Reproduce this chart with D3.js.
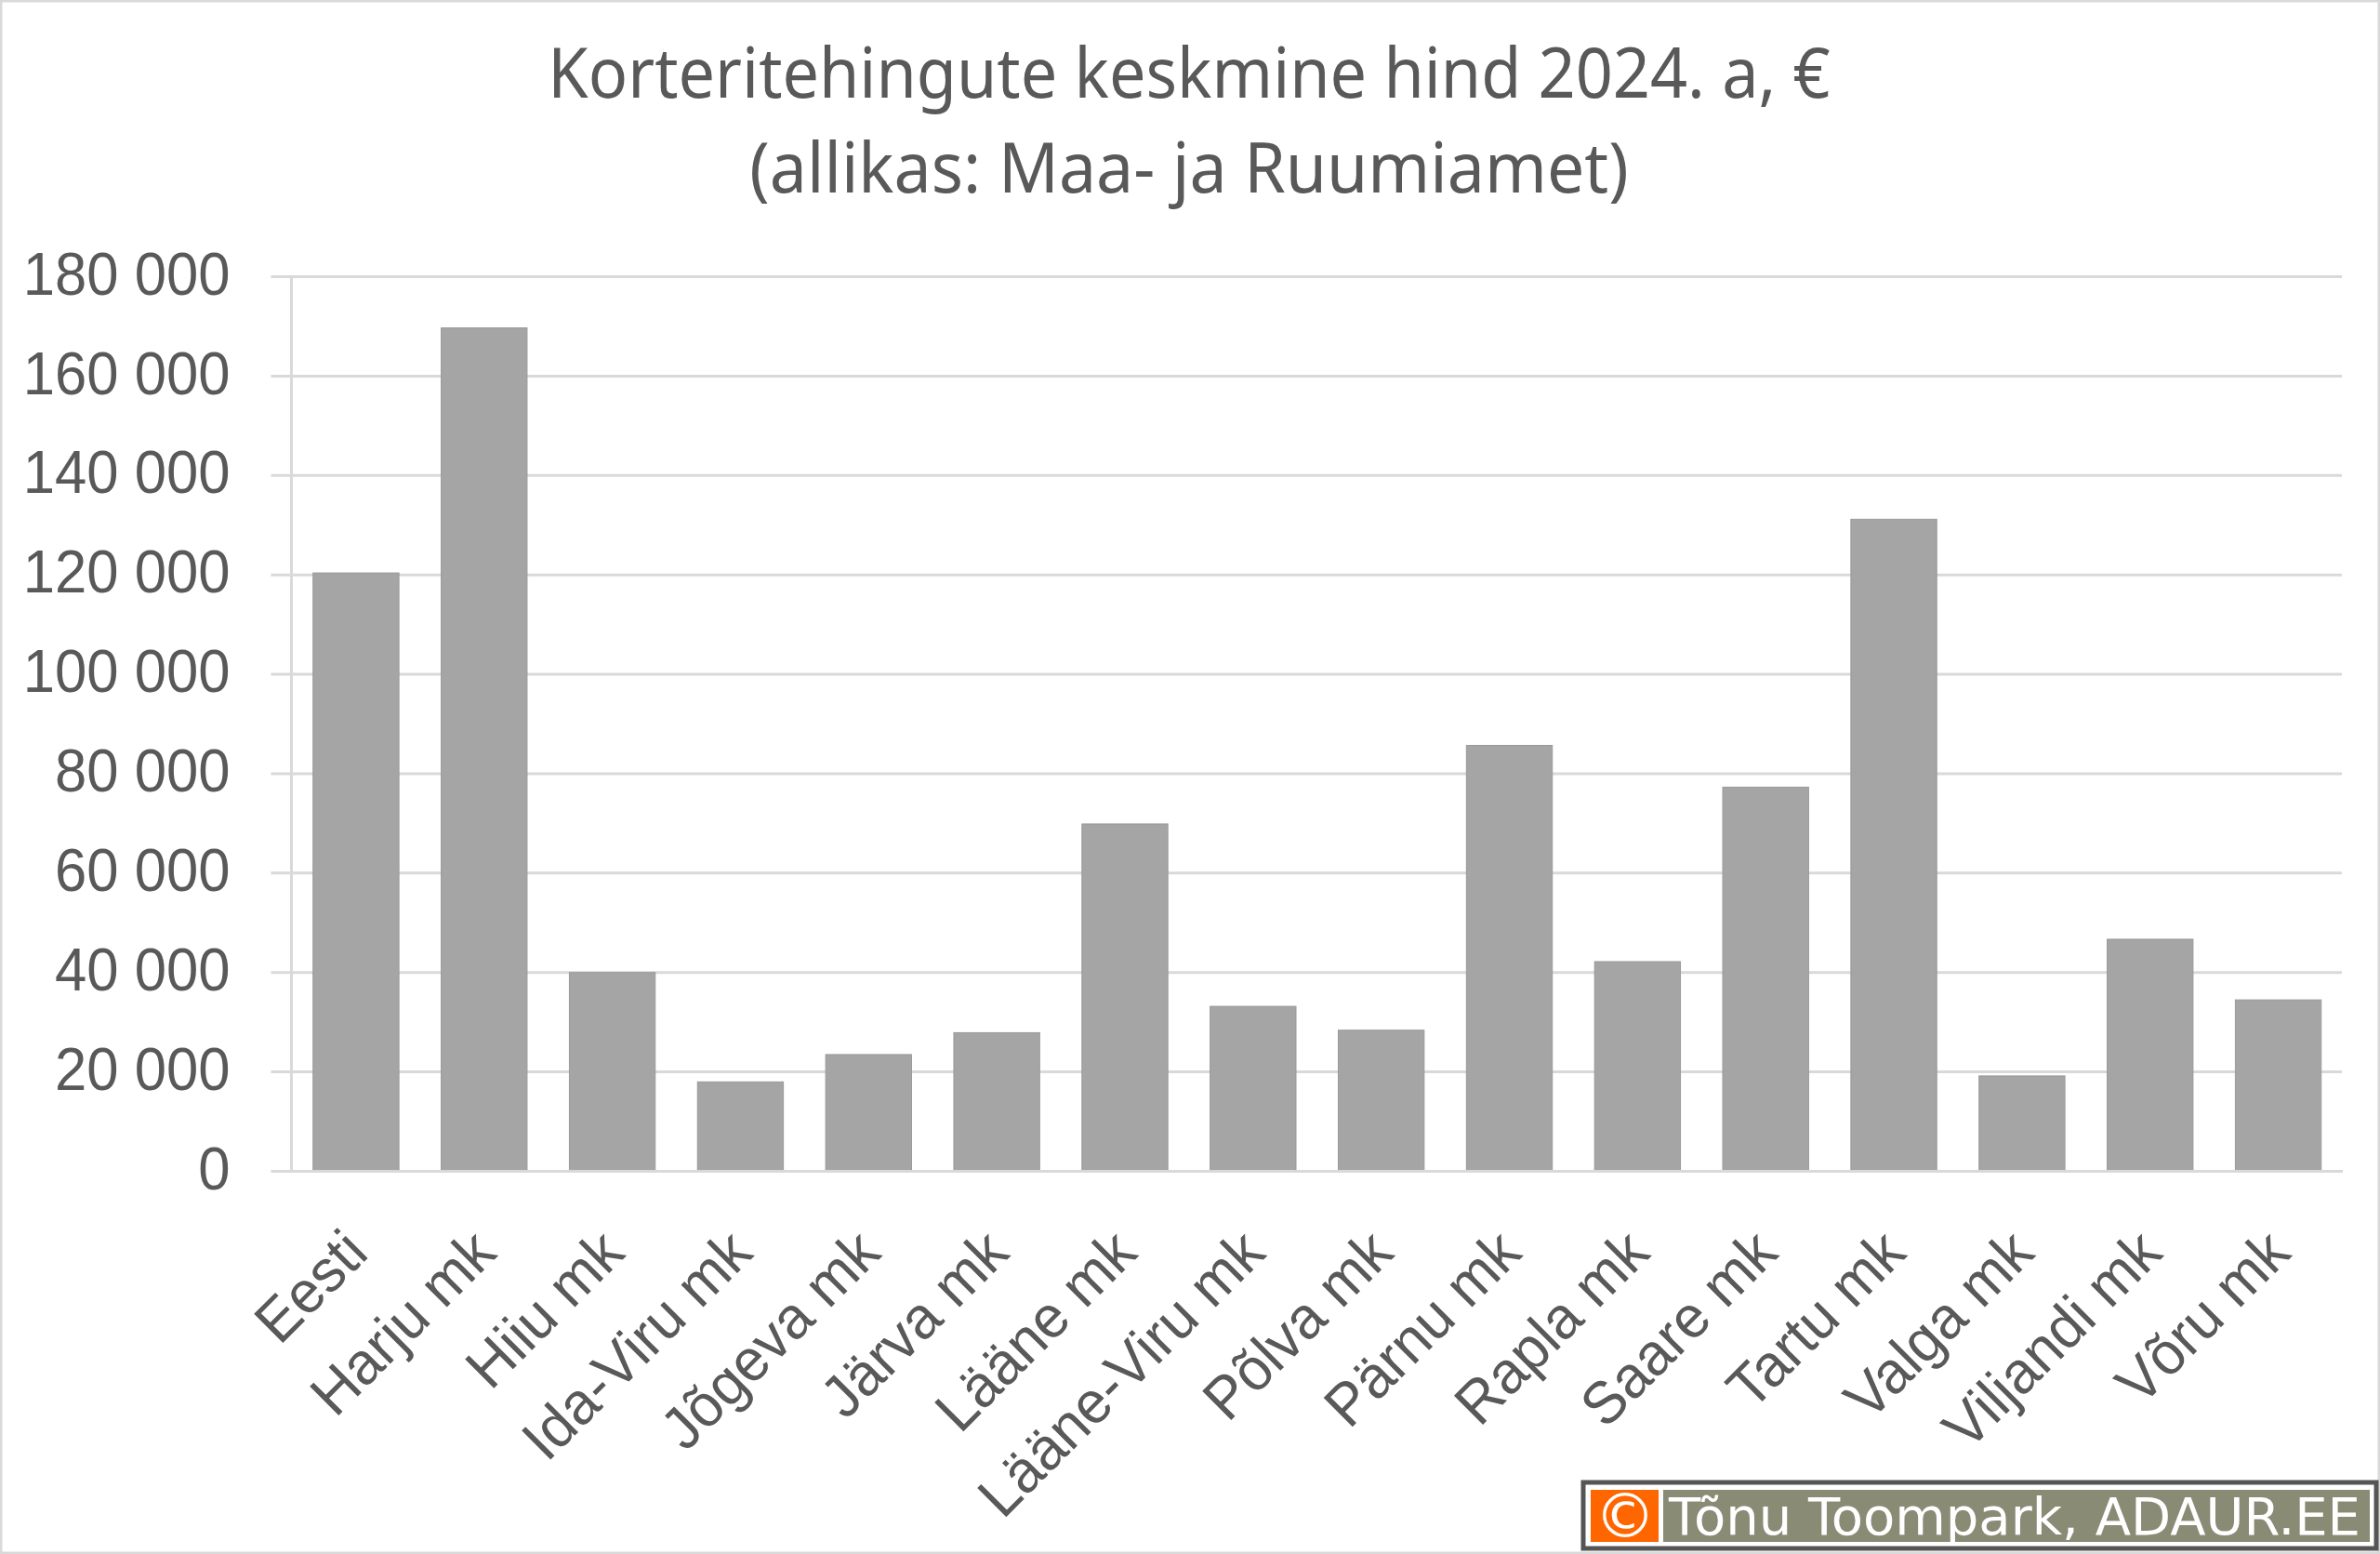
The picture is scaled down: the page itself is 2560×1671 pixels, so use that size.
<!DOCTYPE html>
<html><head><meta charset="utf-8">
<script src="https://cdn.jsdelivr.net/npm/d3@7"></script>
<style>html,body{margin:0;padding:0;background:#fff}svg{display:block}</style>
</head><body><div id="chart"></div>
<script>
const categories = ["Eesti","Harju mk","Hiiu mk","Ida-Viru mk","Jõgeva mk","Järva mk","Lääne mk","Lääne-Viru mk","Põlva mk","Pärnu mk","Rapla mk","Saare mk","Tartu mk","Valga mk","Viljandi mk","Võru mk"];
const prices = [120300,169600,39900,17900,23400,27800,69800,33100,28300,85600,42100,77200,131100,19100,46600,34400];
const titleLines = ["Korteritehingute keskmine hind 2024. a, €","(allikas: Maa- ja Ruumiamet)"];
const yTicks = [0,20000,40000,60000,80000,100000,120000,140000,160000,180000];
const creditText = "Tõnu Toompark, ADAUR.EE";

const W=2560,H=1671, L=313.5,R=2519,T=297,B=1259;
const GREY="#595959", GRID="#d9d9d9";
const fmt=d3.formatLocale({decimal:",",thousands:"\u00a0",grouping:[3],currency:["","€"]}).format(",d");
const squeeze=k=>function(){ this.setAttribute("textLength",this.getComputedTextLength()*k); this.setAttribute("lengthAdjust","spacingAndGlyphs"); };
const svg=d3.select("#chart").append("svg").attr("width",W).attr("height",H).attr("viewBox",`0 0 ${W} ${H}`);
svg.append("rect").attr("x",1).attr("y",1).attr("width",W-2).attr("height",H-2).attr("fill","#fff").attr("stroke",GRID).attr("stroke-width",3);

svg.append("g").selectAll("text").data(titleLines).join("text")
 .attr("x",1279).attr("y",(d,i)=>105+i*102).attr("text-anchor","middle")
 .attr("font-family","'Noto Sans'").attr("font-size",74).attr("fill",GREY).text(d=>d)
 .each(function(d,i){ squeeze(i===0?0.948:0.968).call(this); });

const x=d3.scaleBand().domain(categories).range([L+0.5,R+0.5]).paddingInner(0.33).paddingOuter(0.165);
const y=d3.scaleLinear().domain([0,180000]).range([B,T]);

const gy=svg.append("g").attr("transform",`translate(${L},0)`)
 .call(d3.axisLeft(y).tickValues(yTicks).tickFormat(fmt).tickSize(22).tickPadding(44));
gy.select(".domain").attr("stroke",GRID).attr("stroke-width",3).attr("d",`M0,${T}V${B}`);
gy.selectAll(".tick line").attr("stroke",GRID).attr("stroke-width",3)
 .attr("x1",-22).attr("x2",R-L);
gy.selectAll("text").attr("font-family","'Liberation Sans'").attr("font-size",64).attr("fill",GREY).attr("dy","0.30em").each(squeeze(0.963));

svg.append("g").selectAll("rect").data(prices).join("rect")
 .attr("x",(d,i)=>x(categories[i])).attr("width",x.bandwidth())
 .attr("y",d=>y(d)).attr("height",d=>B-y(d))
 .attr("fill","#a5a5a5").attr("stroke","#999").attr("stroke-width",1);

const gx=svg.append("g").attr("transform",`translate(0,${B})`)
 .call(d3.axisBottom(x).tickSize(0).tickPadding(0));
gx.select(".domain").attr("stroke",GRID).attr("stroke-width",3);
gx.selectAll("text").attr("font-family","'Liberation Sans'").attr("font-size",64).attr("fill",GREY)
 .attr("text-anchor","end").attr("dy",0).attr("y",0)
 .attr("transform","translate(15.5,91) rotate(-45)").each(squeeze(0.97));

const c=svg.append("g");
c.append("rect").attr("x",1703).attr("y",1594).attr("width",853).attr("height",71).attr("fill","#fff").attr("stroke","#555").attr("stroke-width",5);
c.append("rect").attr("x",1711).attr("y",1602).attr("width",73).attr("height",56).attr("fill","#ff6600");
c.append("rect").attr("x",1789).attr("y",1602).attr("width",760).attr("height",56).attr("fill","#8a8b75");
c.append("text").attr("x",1748).attr("y",1653).attr("text-anchor","middle").attr("font-family","'DejaVu Sans'").attr("font-size",66).attr("fill","#fff").text("©");
c.append("text").attr("x",1795).attr("y",1650).attr("textLength",744).attr("lengthAdjust","spacingAndGlyphs").attr("font-family","'DejaVu Sans'").attr("font-size",55).attr("fill","#fff").text(creditText);
</script></body></html>
